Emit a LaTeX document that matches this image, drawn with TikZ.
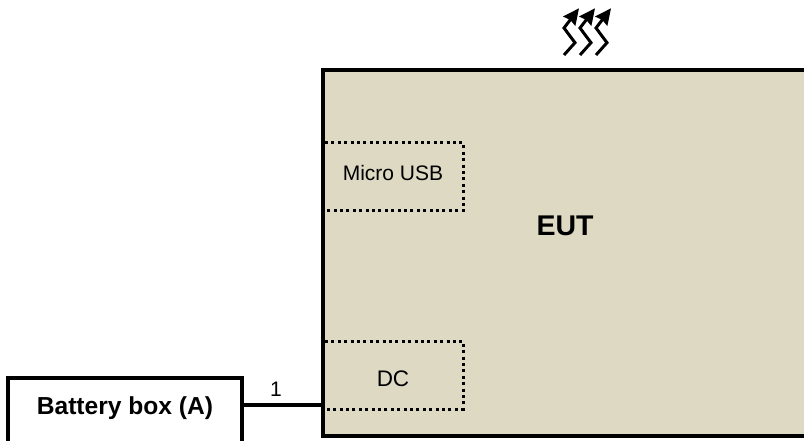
\documentclass[tikz,border=0pt]{standalone}
\usepackage{fontspec}
\setmainfont{Liberation Sans}
\usetikzlibrary{arrows.meta}
\definecolor{eutfill}{HTML}{DDD9C3}
\tikzset{
    boxline/.style={draw=black,line width=4pt,rectangle,inner sep=0pt},
    portline/.style={draw=black,line width=3pt,dash pattern=on 3pt off 3.4pt},
    porttext/.style={font=\fontsize{21}{24}\selectfont,text=black},
    heatline/.style={draw=black,line width=3pt,-{Stealth[length=16pt,width=15pt,inset=1.5pt]}}
}
\begin{document}
\begin{tikzpicture}[x=1pt,y=-1pt]
    \useasboundingbox (0,0) rectangle (804,441);
    \clip (0,0) rectangle (804,441);

    % Equipment under test, runs off the right edge
    \node[boxline,fill=eutfill,minimum width=500pt,minimum height=366pt] (eut) at (573,253) {};
    \node[font=\fontsize{28.5}{32}\bfseries\selectfont] (euttext) at (565,226) {EUT};

    % Ports
    \draw[portline] (325,142.7) -- (463,142.7) -- (463,211) -- (325,211);
    \node[porttext] (usbtext) at (393,173) {Micro USB};
    \draw[portline] (325,341) -- (463,341) -- (463,409) -- (325,409);
    \node[porttext,font=\fontsize{22.5}{24}\selectfont] (dctext) at (393,379) {DC};

    % Battery box, runs off the bottom edge
    \node[boxline,fill=white,minimum width=233.5pt,minimum height=80pt] (battery) at (124.75,418) {};
    \node[font=\fontsize{24.6}{28}\bfseries\selectfont] (batterytext) at (125,408) {Battery box (A)};

    % Cable
    \coordinate (dcport) at (323,405);
    \draw[black,line width=3.5pt] (battery.east |- dcport) -- (dcport);
    \node[porttext] (cabletext) at (276,389) {1};

    % Heat
    \foreach \i in {0,16,32}
        \draw[heatline] (564+\i,55) -- (575+\i,42.7) -- (564+\i,28) -- (579+\i,8.3);
\end{tikzpicture}
\end{document}
